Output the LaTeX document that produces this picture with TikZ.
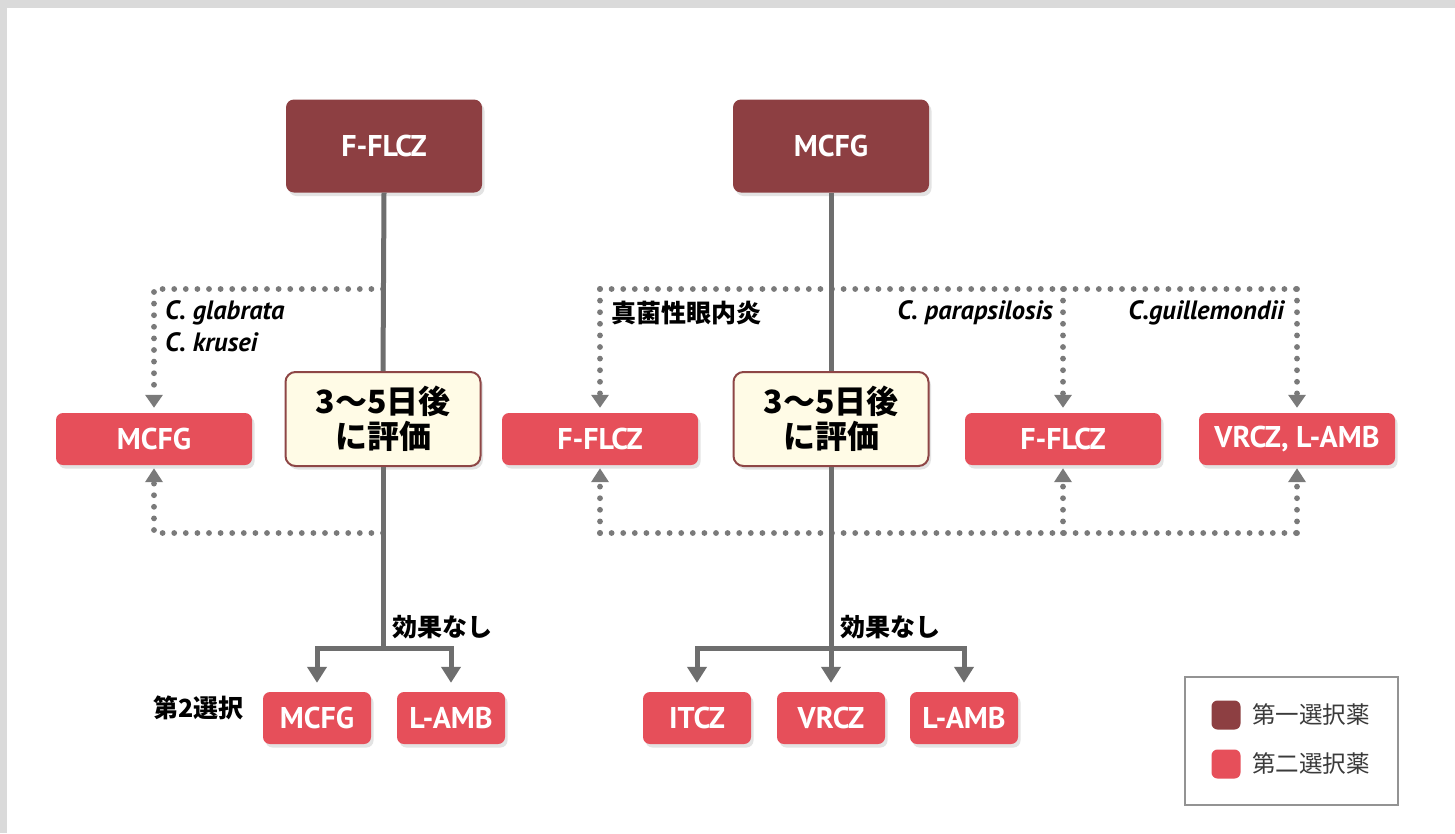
\documentclass[tikz,border=0pt]{standalone}
\usepackage{fontspec}
\newfontfamily\lat{PT Sans}
\newfontfamily\jp{Noto Sans CJK JP}
\usetikzlibrary{arrows.meta,shadows}
\definecolor{darkbox}{HTML}{8D3F42}
\definecolor{redbox}{HTML}{E64F5A}
\definecolor{linegray}{HTML}{6E6E6E}
\definecolor{dotgray}{HTML}{7A7A7A}
\definecolor{cream}{HTML}{FFFBE6}
\definecolor{evalborder}{HTML}{8E4646}
\definecolor{framegray}{HTML}{DADADA}
\definecolor{legtext}{HTML}{3A3A3A}
\begin{document}
\begin{tikzpicture}[x=1pt,y=-1pt,
  shad/.style={drop shadow={opacity=0.22,shadow xshift=2.5pt,shadow yshift=-3.5pt}},
  firstbox/.style={shad,fill=darkbox,rounded corners=8pt,minimum width=196pt,minimum height=93pt,
    text=white,inner sep=0pt,font=\lat\bfseries\fontsize{30}{30}\selectfont},
  secbox/.style={shad,fill=redbox,rounded corners=7pt,minimum height=52pt,
    text=white,inner sep=0pt,font=\lat\bfseries\fontsize{30}{30}\selectfont},
  widebox/.style={secbox,minimum width=196pt},
  smallbox/.style={secbox,minimum width=108pt},
  evalbox/.style={shad,fill=cream,draw=evalborder,line width=2pt,rounded corners=10pt,
    minimum width=195pt,minimum height=94pt,align=center,inner sep=0pt,
    font=\jp\bfseries\fontsize{32}{35}\selectfont},
  sol/.style={draw=linegray,line width=5pt},
  solarr/.style={sol,-{Triangle[width=19pt,length=16pt]},shorten >=9pt},
  dotl/.style={draw=dotgray,line width=5.8pt,line cap=round,dash pattern=on 0pt off 11.6pt},
  dotdown/.style={dotl,-{Triangle[width=17pt,length=13pt]},shorten >=5pt},
  dotup/.style={dotl,-{Triangle[width=17pt,length=14pt]},shorten >=3pt},
  itlbl/.style={inner sep=0pt,font=\lat\bfseries\itshape\fontsize{26.5}{26.5}\selectfont},
  jplbl/.style={inner sep=0pt,font=\jp\bfseries\fontsize{25}{25}\selectfont},
  legsq/.style={rounded corners=6pt,minimum size=29pt,inner sep=0pt},
  legtxt/.style={inner sep=0pt,anchor=west,text=legtext,font=\jp\fontsize{23.5}{23.5}\selectfont}
]
\useasboundingbox (0,0) rectangle (1455,833);
\fill[framegray] (0,0) rectangle (1455,833);
\fill[white] (7,8) rectangle (1455,833);

% first-line boxes
\node[firstbox] (T1) at (384,146) {F-FLCZ};
\node[firstbox] (T2) at (831,146) {MCFG};

% evaluation boxes
\node[evalbox] (E1) at (383,419) {3〜5日後\\に評価};
\node[evalbox] (E2) at (831,419) {3〜5日後\\に評価};

% middle row boxes
\node[widebox] (M1) at (154,439) {MCFG};
\node[widebox] (M2) at (600,439) {F-FLCZ};
\node[widebox] (M3) at (1063,439) {F-FLCZ};
\node[widebox] (M4) at (1297,439) {VRCZ, L-AMB};

% bottom boxes
\node[smallbox] (B1) at (317,718) {MCFG};
\node[smallbox] (B2) at (451,718) {L-AMB};
\node[smallbox] (B3) at (697,718) {ITCZ};
\node[smallbox] (B4) at (831,718) {VRCZ};
\node[smallbox] (B5) at (964,718) {L-AMB};

% coordinates
\coordinate (lt) at (383,289);
\coordinate (lb) at (383,533);
\coordinate (rt1) at (600,289);
\coordinate (rt2) at (1063,289);
\coordinate (rt3) at (1297,289);
\coordinate (rb1) at (600,533);
\coordinate (rb2) at (1063,533);
\coordinate (rb3) at (1297,533);
\coordinate (bl) at (383,648);
\coordinate (br) at (831,648);

% dotted connectors, left
\draw[dotdown] (lt) -| (M1.north);
\draw[dotup] (lb) -| (M1.south);
% dotted connectors, right
\draw[dotl] (rt1) -- (rt3);
\draw[dotdown] (rt1) -- (M2.north);
\draw[dotdown] (rt2) -- (M3.north);
\draw[dotdown] (rt3) -- (M4.north);
\draw[dotl] (rb1) -- (rb3);
\draw[dotup] (rb1) -- (M2.south);
\draw[dotup] (rb2) -- (M3.south);
\draw[dotup] (rb3) -- (M4.south);

% solid connectors
\draw[sol] (T1.south) -- (E1.north);
\draw[sol] (E1.south) -- (bl);
\draw[solarr] (bl) -| (B1.north);
\draw[solarr] (bl) -| (B2.north);
\draw[sol] (T2.south) -- (E2.north);
\draw[sol] (E2.south) -- (br);
\draw[solarr] (br) -| (B3.north);
\draw[solarr] (br) -- (B4.north);
\draw[solarr] (br) -| (B5.north);

% labels
\node[itlbl,anchor=west] (L1) at (165,313) {C. glabrata};
\node[itlbl,anchor=west] (L2) at (165,342) {C. krusei};
\node[jplbl,anchor=west] (L3) at (611,313) {真菌性眼内炎};
\node[itlbl,anchor=east] (L4) at (1053,313) {C. parapsilosis};
\node[itlbl,anchor=east] (L5) at (1284,313) {C.guillemondii};
\node[jplbl,anchor=west] (L6) at (392,627) {効果なし};
\node[jplbl,anchor=west] (L7) at (840,627) {効果なし};
\node[jplbl,anchor=east] (L8) at (244,708) {第2選択};

% legend
\node[draw=gray!85,line width=2pt,minimum width=213pt,minimum height=128pt,inner sep=0pt] (LG) at (1291.5,741) {};
\node[legsq,fill=darkbox] (S1) at (1226,715) {};
\node[legsq,fill=redbox] (S2) at (1226,764) {};
\node[legtxt] (LT1) at (1252,715) {第一選択薬};
\node[legtxt] (LT2) at (1252,764) {第二選択薬};
\end{tikzpicture}
\end{document}
